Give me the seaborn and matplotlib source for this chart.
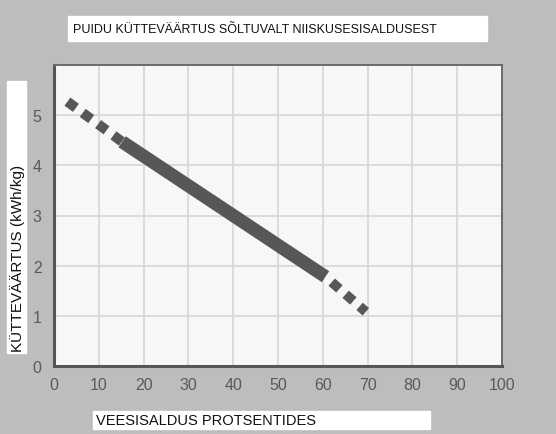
import numpy as np
import pandas as pd
import matplotlib
matplotlib.use('Agg')
import matplotlib.pyplot as plt
import seaborn as sns

# values
moisture_start = [3, 15.2]          # dashed start
value_start = [5.27, 4.47]
moisture_mid = [15.2, 60.6]         # solid part
value_mid = [4.47, 1.78]
moisture_end = [60.6, 69.6]         # dashed end
value_end = [1.78, 1.08]

x_ticks = list(range(0, 101, 10))
y_ticks = [0, 1, 2, 3, 4, 5]

title = 'PUIDU KÜTTEVÄÄRTUS SÕLTUVALT NIISKUSESISALDUSEST'
xlabel = 'VEESISALDUS PROTSENTIDES'
ylabel = 'KÜTTEVÄÄRTUS (kWh/kg)'

sns.set_style('white')
plt.rcParams['font.family'] = ['Liberation Sans', 'DejaVu Sans']

bg = '#bdbdbd'
line_col = '#575757'

fig = plt.figure(figsize=(5.56, 4.35), dpi=100, facecolor=bg)
ax = fig.add_axes([54 / 556, 68 / 435, 448 / 556, 301 / 435])
ax.set_facecolor('#f7f7f7')

sns.lineplot(ax=ax, x=moisture_mid, y=value_mid, color=line_col, lw=9.5,
             solid_capstyle='butt')
sns.lineplot(ax=ax, x=moisture_start, y=value_start, color=line_col, lw=7.2)
ax.lines[-1].set_linestyle((0, (1.05, 0.85)))
ax.lines[-1].set_dash_capstyle('butt')
sns.lineplot(ax=ax, x=moisture_end, y=value_end, color=line_col, lw=7.0)
ax.lines[-1].set_linestyle((1.05, (1.05, 0.85)))
ax.lines[-1].set_dash_capstyle('butt')

ax.set_xlim(0, 100)
ax.set_ylim(0, 6)
ax.set_xticks(x_ticks)
ax.set_yticks(list(range(0, 7)))
ax.set_yticklabels([str(v) for v in y_ticks] + [''])
ax.grid(True, color='#d8d8d8', lw=1.3)
ax.tick_params(axis='both', length=0, labelsize=11.5, labelcolor='#5a5a5a', pad=8)
ax.tick_params(axis='y', pad=9)
for s in ['left', 'bottom']:
    ax.spines[s].set_color('#555555')
    ax.spines[s].set_linewidth(2.2)
for s in ['top', 'right']:
    ax.spines[s].set_color('#6a6a6a')
    ax.spines[s].set_linewidth(1.4)
ax.set_xlabel('')
ax.set_ylabel('')

# white boxes behind the labels, like in the reference
fig.patches.append(plt.Rectangle((68 / 556, 1 - 42 / 435), 419 / 556, 25 / 435,
                                 transform=fig.transFigure, color='white', zorder=0))
fig.text(73 / 556, 1 - 30 / 435, title, ha='left', va='center', fontsize=9, color='#111111')

fig.patches.append(plt.Rectangle((93 / 556, 1 - 430 / 435), 337 / 556, 18 / 435,
                                 transform=fig.transFigure, color='white', zorder=0))
fig.text(96 / 556, 1 - 421 / 435, xlabel, ha='left', va='center', fontsize=10.5, color='#111111')

fig.patches.append(plt.Rectangle((7 / 556, 1 - 354 / 435), 19 / 556, 272 / 435,
                                 transform=fig.transFigure, color='white', zorder=0))
fig.text(18 / 556, 1 - 352 / 435, ylabel, ha='center', va='bottom', rotation=90,
         fontsize=11, color='#111111')

fig.savefig('out.png', dpi=100, facecolor=bg)
